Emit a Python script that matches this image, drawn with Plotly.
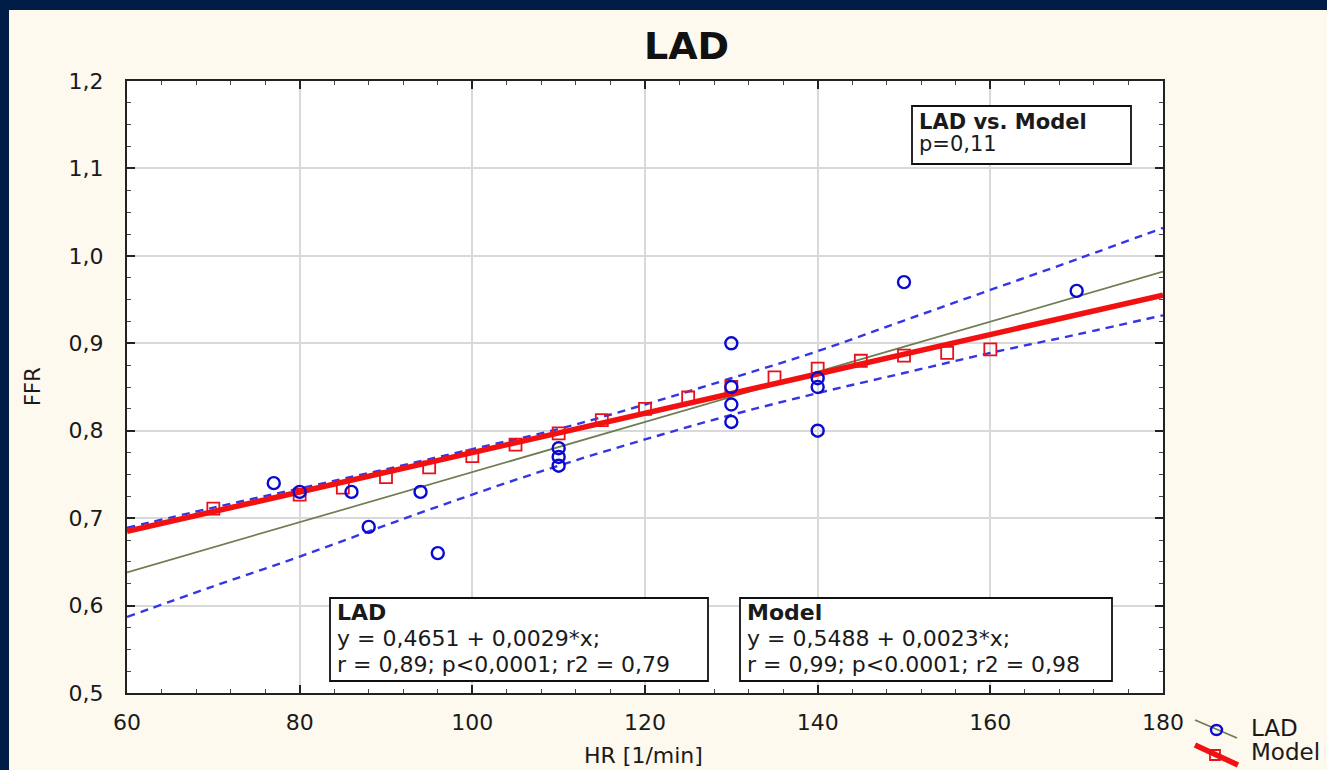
import plotly.graph_objects as go

# ---------------- data ----------------
hr_lad = [77, 80, 86, 88, 94, 96, 110, 110, 110, 130, 130, 130, 130, 140, 140, 140, 150, 170]
ffr_lad = [0.74, 0.73, 0.73, 0.69, 0.73, 0.66, 0.78, 0.77, 0.76, 0.90, 0.85, 0.83, 0.81,
           0.86, 0.85, 0.80, 0.97, 0.96]

hr_model = [70, 80, 85, 90, 95, 100, 105, 110, 115, 120, 125, 130, 135, 140, 145, 150, 155, 160]
ffr_model = [0.711, 0.727, 0.735, 0.747, 0.758, 0.771, 0.784, 0.797, 0.812, 0.825, 0.838,
             0.850, 0.861, 0.871, 0.880, 0.886, 0.889, 0.893]

fit_x = [60, 180]
lad_fit_y = [0.638, 0.982]
model_fit_y = [0.685, 0.955]

band_x = [60, 70, 80, 90, 100, 110, 120, 130, 140, 150, 160, 170, 180]
band_upper = [0.689, 0.712, 0.734, 0.756, 0.779, 0.802, 0.830, 0.860, 0.891, 0.926, 0.961, 0.996, 1.032]
band_lower = [0.587, 0.622, 0.656, 0.692, 0.727, 0.760, 0.790, 0.818, 0.843, 0.866, 0.889, 0.910, 0.932]

x_ticks = [60, 80, 100, 120, 140, 160, 180]
y_ticks = [0.5, 0.6, 0.7, 0.8, 0.9, 1.0, 1.1, 1.2]
y_ticklabels = ["0,5", "0,6", "0,7", "0,8", "0,9", "1,0", "1,1", "1,2"]

lad_box = ["<b>LAD</b>", "y = 0,4651 + 0,0029*x;", "r = 0,89; p<0,0001; r2 = 0,79"]
model_box = ["<b>Model</b>", "y = 0,5488 + 0,0023*x;", "r = 0,99; p<0.0001; r2 = 0,98"]
cmp_box = ["<b>LAD vs. Model</b>", "p=0,11"]

# ---------------- layout geometry ----------------
W, H = 1327, 770
L, R, T, B = 127, 1163, 81, 693
FONT = "DejaVu Sans"
NAVY = "#011d47"
CREAM = "#fdf9ef"
TXT = "#1a1a1a"


def px(x):
    return (x - L) / (R - L)


def py(y):
    return (B - y) / (B - T)


fig = go.Figure()

# confidence bands
for band in (band_upper, band_lower):
    fig.add_trace(go.Scatter(x=band_x, y=band, mode="lines", line_shape="spline",
                             line=dict(color="#3535e6", width=2.4, dash="8px,6px"),
                             hoverinfo="skip"))
# LAD regression line
fig.add_trace(go.Scatter(x=fit_x, y=lad_fit_y, mode="lines",
                         line=dict(color="#6e7d52", width=1.7)))
# model points and fit
fig.add_trace(go.Scatter(x=hr_model, y=ffr_model, mode="markers",
                         marker=dict(symbol="square-open", size=12, color="#e8101a",
                                     line=dict(width=1.8, color="#e8101a"))))
fig.add_trace(go.Scatter(x=fit_x, y=model_fit_y, mode="lines",
                         line=dict(color="#f21010", width=5.5)))
# LAD points
fig.add_trace(go.Scatter(x=hr_lad, y=ffr_lad, mode="markers",
                         marker=dict(symbol="circle-open", size=12, color="#0a0ad0",
                                     line=dict(width=2.4, color="#0a0ad0"))))

shapes = []
annotations = []

# navy slide borders
shapes.append(dict(type="rect", xref="paper", yref="paper", x0=px(0), x1=px(W), y0=py(10), y1=py(0),
                   fillcolor=NAVY, line=dict(width=0), layer="below"))
shapes.append(dict(type="rect", xref="paper", yref="paper", x0=px(0), x1=px(9), y0=py(W), y1=py(0),
                   fillcolor=NAVY, line=dict(width=0), layer="below"))


def text_box(x0, x1, y0, y1, lines, line_ys, tx, size):
    shapes.append(dict(type="rect", xref="paper", yref="paper", x0=px(x0), x1=px(x1),
                       y0=py(y1), y1=py(y0), fillcolor="white",
                       line=dict(color="#111111", width=1.8), layer="above"))
    for t, yy in zip(lines, line_ys):
        annotations.append(dict(text=t, xref="paper", yref="paper", x=px(tx), y=py(yy),
                                xanchor="left", yanchor="middle", showarrow=False,
                                font=dict(family=FONT, size=size, color=TXT)))


text_box(330, 708, 598, 681, lad_box, [612, 638, 664], 335, 22)
text_box(740, 1112, 598, 681, model_box, [612, 638, 664], 745, 22)
text_box(912, 1131, 106, 164, cmp_box, [122, 144], 917, 21)

# custom legend
shapes.append(dict(type="line", xref="paper", yref="paper", x0=px(1195), y0=py(720),
                   x1=px(1237), y1=py(738), line=dict(color="#6e7d52", width=1.8)))
shapes.append(dict(type="circle", xref="paper", yref="paper", x0=px(1211), x1=px(1222),
                   y0=py(735), y1=py(725), line=dict(color="#0a0ad0", width=2.4)))
shapes.append(dict(type="line", xref="paper", yref="paper", x0=px(1195), y0=py(745),
                   x1=px(1238), y1=py(765), line=dict(color="#f21010", width=5.5)))
shapes.append(dict(type="rect", xref="paper", yref="paper", x0=px(1210), x1=px(1220),
                   y0=py(760), y1=py(750), line=dict(color="#e8101a", width=1.8)))
annotations.append(dict(text="LAD", xref="paper", yref="paper", x=px(1249), y=py(728),
                        xanchor="left", yanchor="middle", showarrow=False,
                        font=dict(family=FONT, size=23, color=TXT)))
annotations.append(dict(text="Model", xref="paper", yref="paper", x=px(1249), y=py(752),
                        xanchor="left", yanchor="middle", showarrow=False,
                        font=dict(family=FONT, size=23, color=TXT)))

# axis titles and chart title
annotations.append(dict(text="<b>LAD</b>", xref="paper", yref="paper", x=px(686), y=py(46),
                        xanchor="center", yanchor="middle", showarrow=False,
                        font=dict(family=FONT, size=38, color="#111111")))
annotations.append(dict(text="HR [1/min]", xref="paper", yref="paper", x=px(643), y=py(755),
                        xanchor="center", yanchor="middle", showarrow=False,
                        font=dict(family=FONT, size=22, color=TXT)))
annotations.append(dict(text="FFR", xref="paper", yref="paper", x=px(33), y=py(387),
                        xanchor="center", yanchor="middle", showarrow=False, textangle=-90,
                        font=dict(family=FONT, size=21, color=TXT)))

fig.update_layout(
    width=W, height=H,
    margin=dict(l=L, r=W - R, t=T, b=H - B, pad=0),
    paper_bgcolor=CREAM, plot_bgcolor="white",
    showlegend=False,
    shapes=shapes, annotations=annotations,
    font=dict(family=FONT, color=TXT),
)
fig.update_xaxes(range=[60, 180], tickvals=x_ticks, ticktext=[str(v) for v in x_ticks],
                 showgrid=True, gridcolor="#d9d9d9", gridwidth=2,
                 showline=True, linecolor="#222222", linewidth=2, mirror="ticks",
                 ticks="inside", ticklen=8, tickwidth=1.5, tickcolor="#222222",
                 minor=dict(dtick=4, tick0=60, ticks="inside", ticklen=4, tickwidth=1,
                            tickcolor="#444444", showgrid=False),
                 tickfont=dict(family=FONT, size=22, color=TXT),
                 ticklabelstandoff=9, zeroline=False)
fig.update_yaxes(range=[0.5, 1.2], tickvals=y_ticks, ticktext=y_ticklabels,
                 showgrid=True, gridcolor="#d9d9d9", gridwidth=2,
                 showline=True, linecolor="#222222", linewidth=2, mirror="ticks",
                 ticks="inside", ticklen=8, tickwidth=1.5, tickcolor="#222222",
                 minor=dict(dtick=0.025, tick0=0.5, ticks="inside", ticklen=4, tickwidth=1,
                            tickcolor="#444444", showgrid=False),
                 tickfont=dict(family=FONT, size=22, color=TXT),
                 ticklabelstandoff=17, zeroline=False)

fig.write_html("out.html")
